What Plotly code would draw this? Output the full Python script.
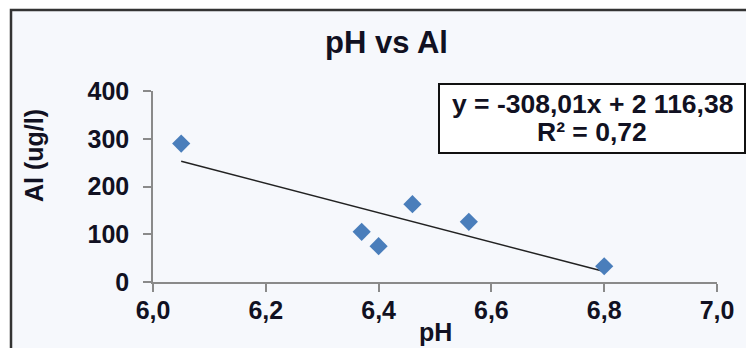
import plotly.graph_objects as go

# ---- data ----
ph = [6.05, 6.37, 6.40, 6.46, 6.56, 6.80]
al = [290, 105, 75, 163, 126, 33]
slope = -308.01
intercept = 2116.38
eq_text = "y = -308,01x + 2 116,38"
r2_text = "R² = 0,72"
x_ticks = [6.0, 6.2, 6.4, 6.6, 6.8, 7.0]
y_ticks = [0, 100, 200, 300, 400]

# page body has an 8px margin, so the figure is drawn 8px in from the corner
OFF = 8
W, H = 754 - OFF, 348 - OFF
L, R, T, B = 153 - OFF, 37, 91 - OFF, 348 - 282
PW, PH = W - L - R, H - T - B

def px(x):
    return (x - OFF - L) / PW

def py(y):
    return (H - B - (y - OFF)) / PH

FONT = "Liberation Sans, Arial, sans-serif"
TXT = "#111122"

trend_x = [min(ph), max(ph)]
trend_y = [slope * v + intercept for v in trend_x]

fig = go.Figure()
fig.add_trace(go.Scatter(x=trend_x, y=trend_y, mode="lines",
                         line=dict(color="#222222", width=1.5), hoverinfo="skip"))
fig.add_trace(go.Scatter(x=ph, y=al, mode="markers",
                         marker=dict(symbol="diamond", size=14, color="#4a7ebb",
                                     line=dict(width=0))))

fig.update_layout(
    width=W, height=H,
    margin=dict(l=L, r=R, t=T, b=B),
    paper_bgcolor="white",
    plot_bgcolor="rgba(0,0,0,0)",
    showlegend=False,
    separators=", ",
    font=dict(family=FONT, color=TXT, size=24),
    xaxis=dict(range=[6.0, 7.0], tickvals=x_ticks, tickformat=".1f",
               showgrid=False, zeroline=False, showline=True,
               linecolor="#8a8a8a", linewidth=1.5, ticks="outside",
               ticklen=8, tickcolor="#8a8a8a", tickwidth=1.5,
               ticklabelstandoff=-3,
               tickfont=dict(family=FONT, size=25, color=TXT, weight="bold")),
    yaxis=dict(range=[0, 400], tickvals=y_ticks,
               showgrid=False, zeroline=False, showline=True,
               linecolor="#8a8a8a", linewidth=1.5, ticks="outside",
               ticklen=8, tickcolor="#8a8a8a", tickwidth=1.5,
               ticklabelstandoff=9,
               tickfont=dict(family=FONT, size=25, color=TXT, weight="bold")),
    shapes=[
        dict(type="rect", xref="paper", yref="paper", layer="below",
             x0=px(11), x1=px(790), y0=py(10), y1=py(400),
             fillcolor="#f6f8fc", line=dict(color="#333333", width=2.5)),
        dict(type="rect", xref="paper", yref="paper",
             x0=px(439), x1=px(745), y0=py(84), y1=py(153),
             fillcolor="white", line=dict(color="#111111", width=2)),
    ],
    annotations=[
        dict(text="pH vs Al", xref="paper", yref="paper", x=px(386), y=py(43),
             showarrow=False, xanchor="center", yanchor="middle",
             font=dict(family=FONT, size=31, color=TXT, weight="bold")),
        dict(text="pH", xref="paper", yref="paper", x=px(435), y=py(332),
             showarrow=False, xanchor="center", yanchor="middle",
             font=dict(family=FONT, size=25, color=TXT, weight="bold")),
        dict(text="Al (ug/l)", xref="paper", yref="paper", x=px(34), y=py(156),
             showarrow=False, xanchor="center", yanchor="middle", textangle=-90,
             font=dict(family=FONT, size=25, color=TXT, weight="bold")),
        dict(text=eq_text, xref="paper", yref="paper", x=px(592), y=py(104),
             showarrow=False, xanchor="center", yanchor="middle",
             font=dict(family=FONT, size=26.5, color=TXT, weight="bold")),
        dict(text=r2_text, xref="paper", yref="paper", x=px(592), y=py(132),
             showarrow=False, xanchor="center", yanchor="middle",
             font=dict(family=FONT, size=26.5, color=TXT, weight="bold")),
    ],
)

fig.write_html("out.html")
